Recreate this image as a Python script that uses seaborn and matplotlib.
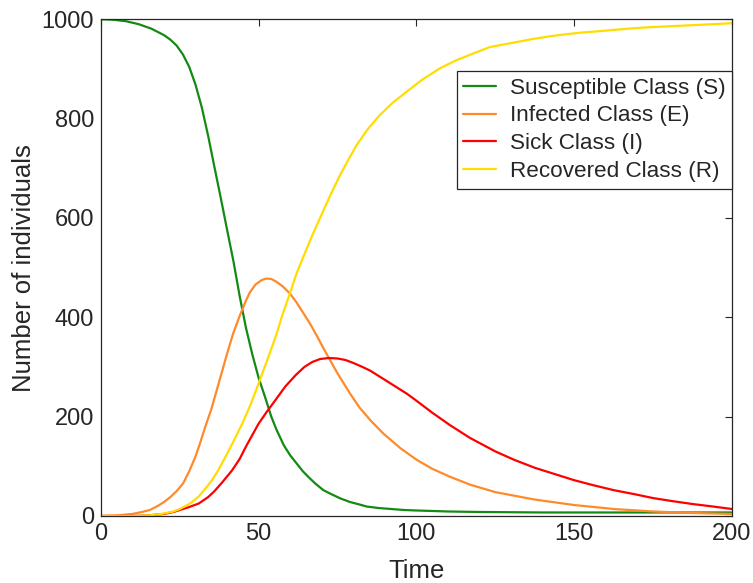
import numpy as np
import pandas as pd
import seaborn as sns
import matplotlib
matplotlib.use("Agg")
import matplotlib.pyplot as plt

# ---- data ----
t_S = [0, 4, 8, 12, 16, 20, 22, 24, 26, 28, 30, 32, 34, 36, 38, 40, 42, 44, 46, 48, 50, 52, 54, 55.7, 58, 60, 62, 64, 66, 68,
       70.5, 73, 76, 79, 82, 84.2, 88, 92, 96, 100, 110, 120, 140, 170, 200]
S = [1000, 999, 996, 990, 981, 968, 959, 947, 929, 904, 868, 822, 765, 702, 640, 576, 513, 442, 378, 325, 278, 240, 200, 173, 142, 122, 106, 90, 77, 65,
     52, 44, 35, 28, 23, 19, 16, 14, 12, 11, 9, 8, 7, 7, 7]

t_E = [0, 5, 10, 13, 15.5, 18, 20, 22, 24, 26.1, 28, 30, 31.4, 33, 35, 36.7, 38.5, 40, 41.9, 44, 46, 47.2, 49, 51, 52.5, 54, 55.5,
       57.5, 59.9, 62, 64, 66.2, 68.5, 70.5, 72.6, 75, 78.9, 82, 85.5, 89.5, 95, 100.1, 105, 110.6, 117, 125, 137.5, 150, 162.5, 175, 187.5, 200]
E = [0, 1, 4, 8, 12, 20, 28, 38, 50, 66, 90, 120, 146, 178, 215, 253, 293, 327, 367, 403, 434, 450, 466, 475, 478, 477, 472,
     463, 448, 430, 410, 388, 362, 338, 314, 287, 247, 218, 192, 166, 136, 113, 95, 79, 63, 48, 33, 22, 14, 9, 6, 4]

t_I = [0, 10, 15, 18, 20, 23, 25, 28, 31, 34, 36, 38.5, 41.6, 44, 46, 48, 50, 52.5, 55.4, 58.5, 61.8, 64.5, 67, 69.5, 72.3, 75, 77.5,
       80, 82.9, 85.5, 88, 90.5, 93.5, 97, 100, 105, 110.6, 117, 125, 131, 137.5, 144, 150, 156, 162.5, 169, 175, 181, 187.5, 194, 200]
I = [0, 0, 1, 3, 4, 8, 12, 18, 25, 38, 50, 68, 92, 115, 140, 163, 186, 209, 234, 261, 284, 300, 310, 316, 318, 317, 314,
     308, 300, 292, 282, 272, 260, 246, 232, 208, 183, 157, 130, 113, 97, 84, 72, 62, 52, 44, 36, 30, 24, 19, 14]

t_R = [0, 10, 15, 18, 20, 23, 25, 28, 31, 33, 35, 37, 39.5, 42, 44.8, 47.5, 50, 52.5, 55.4, 57.5, 59.9, 62, 64.7, 67, 69.9, 72.8,
       75.8, 78.5, 81, 84.5, 88.4, 92.5, 96.9, 102, 107.4, 112.5, 118, 123.3, 130, 137.5, 145, 152, 160, 167, 174, 187.5, 200]
R = [0, 0, 1, 3, 5, 9, 14, 24, 39, 54, 70, 90, 119, 150, 186, 225, 267, 310, 361, 404, 448, 488, 530, 565, 606, 647,
     686, 718, 746, 778, 807, 832, 854, 879, 901, 917, 931, 944, 952, 961, 968, 973, 977, 981, 984, 988, 992]

labels = ["Susceptible Class (S)", "Infected Class (E)", "Sick Class (I)", "Recovered Class (R)"]
colors = ["#138a13", "#ff8a2a", "#ff0000", "#ffdd00"]
x_ticks = [0, 50, 100, 150, 200]
y_ticks = [0, 200, 400, 600, 800, 1000]

sns.set_theme(style="white")
plt.rcParams["font.family"] = ["Liberation Sans", "DejaVu Sans"]
ink = "#262626"

fig = plt.figure(figsize=(7.53, 5.83), dpi=100)
ax = fig.add_axes([0.134, 0.115, 0.838, 0.852])

series = [(t_S, S), (t_E, E), (t_I, I), (t_R, R)]
for (tt, vv), lab, col in zip(series, labels, colors):
    df = pd.DataFrame({"Time": tt, "Value": vv})
    sns.lineplot(data=df, x="Time", y="Value", ax=ax, color=col, lw=1.6, label=lab, sort=True)

ax.set_xlim(0, 200)
ax.set_ylim(0, 1000)
ax.set_xticks(x_ticks)
ax.set_yticks(y_ticks)
ax.set_xlabel("Time", fontsize=18.5, color=ink, labelpad=10)
ax.set_ylabel("Number of individuals", fontsize=18.5, color=ink, labelpad=4)
ax.tick_params(axis="both", direction="in", length=5, width=0.8, color=ink,
               labelsize=17, labelcolor=ink, top=True, right=True, pad=5)
for sp in ax.spines.values():
    sp.set_visible(True)
    sp.set_color(ink)
    sp.set_linewidth(0.9)

leg = ax.legend(loc="upper right", bbox_to_anchor=(1.0, 0.896), borderaxespad=0,
                fontsize=16.2, frameon=True, fancybox=False, framealpha=1,
                edgecolor=ink, handlelength=1.45, handletextpad=0.6,
                labelspacing=0.3, borderpad=0.3)
leg.get_frame().set_linewidth(0.9)
for txt in leg.get_texts():
    txt.set_color(ink)

fig.savefig("out.png", dpi=100, facecolor="white")
